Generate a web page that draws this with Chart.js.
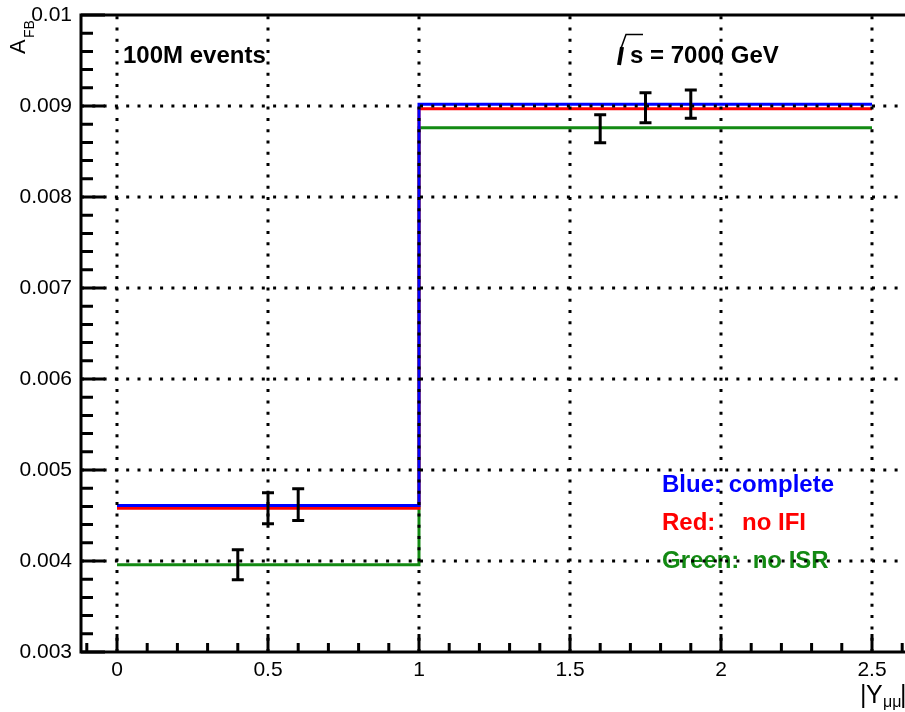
<!DOCTYPE html>
<html>
<head>
<meta charset="utf-8">
<script src="https://cdn.jsdelivr.net/npm/chart.js@4.4.1/dist/chart.umd.min.js"></script>
<style>
  html,body{margin:0;padding:0;background:#fff;}
  #wrap{width:905px;height:712px;}
</style>
</head>
<body>
<div id="wrap"><canvas id="myChart" width="905" height="712"></canvas></div>
<script>
// bins in |Y_mumu| and A_FB per bin
const bin_edges = [0, 1, 2.5]
const afb_complete = [0.00461, 0.00902]
const afb_noIFI = [0.00458, 0.00897]
const afb_noISR = [0.00396, 0.00876]

// generated points (100M events) with stat errors
const pnt_x = [0.4, 0.5, 0.6, 1.6, 1.75, 1.9]
const pnt_y = [0.00396, 0.00458, 0.00462, 0.00875, 0.00898, 0.00902]
const pnt_err = [0.000165, 0.00017, 0.000175, 0.000155, 0.000165, 0.000155]

const x_ticks = [0, 0.5, 1, 1.5, 2, 2.5]
const x_tick_labels = ['0', '0.5', '1', '1.5', '2', '2.5']
const y_ticks = [0.003, 0.004, 0.005, 0.006, 0.007, 0.008, 0.009, 0.01]
const y_tick_labels = ['0.003', '0.004', '0.005', '0.006', '0.007', '0.008', '0.009', '0.01']

const C_BLUE = '#0000ff'
const C_RED = '#ff0000'
const C_GREEN = '#138a13'
const FONT = "'Liberation Sans', Arial, Helvetica, sans-serif"

Chart.defaults.font.family = FONT

// histogram -> step points (last edge repeats last bin)
const to_steps = (vals) => bin_edges.map((e, i) => ({x: e, y: vals[Math.min(i, vals.length - 1)]}))

const root_frame = {
  id: 'root_frame',
  afterDatasetsDraw(chart) {
    const ctx = chart.ctx
    const ys = chart.scales.y
    const meta = chart.getDatasetMeta(3)

    // error bars
    ctx.save()
    ctx.strokeStyle = '#000'
    ctx.lineWidth = 3
    meta.data.forEach((pt, i) => {
      const yt = ys.getPixelForValue(pnt_y[i] + pnt_err[i])
      const yb = ys.getPixelForValue(pnt_y[i] - pnt_err[i])
      ctx.beginPath()
      ctx.moveTo(pt.x, yt); ctx.lineTo(pt.x, yb)
      ctx.moveTo(pt.x - 6, yt); ctx.lineTo(pt.x + 6, yt)
      ctx.moveTo(pt.x - 6, yb); ctx.lineTo(pt.x + 6, yb)
      ctx.stroke()
    })

    // labels
    ctx.textAlign = 'left'
    ctx.textBaseline = 'alphabetic'
    ctx.fillStyle = '#000'
    ctx.font = `bold 24px ${FONT}`
    ctx.fillText('100M events', 123, 63)

    // sqrt(s)
    ctx.lineWidth = 4
    ctx.beginPath(); ctx.moveTo(619, 65); ctx.lineTo(622, 47); ctx.stroke()
    ctx.lineWidth = 1.5
    ctx.beginPath(); ctx.moveTo(621.5, 47); ctx.lineTo(626, 34.5); ctx.lineTo(643, 34.5); ctx.stroke()
    ctx.fillText('s = 7000 GeV', 630, 63)

    ctx.fillStyle = C_BLUE
    ctx.fillText('Blue: complete', 662, 492)
    ctx.fillStyle = C_RED
    ctx.fillText('Red:    no IFI', 662, 530)
    ctx.fillStyle = C_GREEN
    ctx.fillText('Green:  no ISR', 662, 568)

    // axis titles
    ctx.fillStyle = '#000'
    ctx.save()
    ctx.translate(25, 54)
    ctx.rotate(-Math.PI / 2)
    ctx.font = `22px ${FONT}`
    ctx.fillText('A', 0, 0)
    ctx.font = `14px ${FONT}`
    ctx.fillText('FB', 16, 9)
    ctx.restore()

    ctx.font = `25px ${FONT}`
    ctx.fillText('|', 860, 703)
    ctx.fillText('Y', 866, 703)
    ctx.font = `16px ${FONT}`
    ctx.fillText('\u03bc\u03bc', 883, 707)
    ctx.font = `25px ${FONT}`
    ctx.fillText('|', 900, 703)
    ctx.restore()
  },
  afterDraw(chart) {
    const {ctx, chartArea: {left, right, top, bottom}} = chart
    const xs = chart.scales.x
    const ys = chart.scales.y
    ctx.save()
    ctx.strokeStyle = '#000'

    // dotted grid on top of the histograms
    ctx.lineWidth = 3
    ctx.setLineDash([3, 8.3])
    x_ticks.forEach((v) => {
      const px = xs.getPixelForValue(v)
      ctx.beginPath(); ctx.moveTo(px, bottom); ctx.lineTo(px, top); ctx.stroke()
    })
    y_ticks.forEach((v) => {
      const py = ys.getPixelForValue(v)
      if (py > bottom - 2 || py < top + 2) return
      ctx.beginPath(); ctx.moveTo(left, py); ctx.lineTo(right, py); ctx.stroke()
    })
    ctx.setLineDash([])

    // frame
    ctx.beginPath()
    ctx.moveTo(right, top); ctx.lineTo(left, top); ctx.lineTo(left, bottom); ctx.lineTo(right, bottom)
    ctx.stroke()

    // tick marks, 5 minor per major on y, 5 on x
    ctx.beginPath()
    for (let k = 0; k <= 35; k++) {
      const py = ys.getPixelForValue(0.003 + k * 0.0002)
      const len = k % 5 === 0 ? 24 : 12
      ctx.moveTo(left, py); ctx.lineTo(left + len, py)
    }
    for (let k = -1; k <= 26; k++) {
      const px = xs.getPixelForValue(k * 0.1)
      if (px < left || px > right) continue
      const len = k % 5 === 0 ? 18 : 9
      ctx.moveTo(px, bottom); ctx.lineTo(px, bottom - len)
    }
    ctx.stroke()
    ctx.restore()
  }
}

const line_ds = (label, vals, color) => ({
  type: 'line',
  label: label,
  data: to_steps(vals),
  borderColor: color,
  backgroundColor: color,
  borderWidth: 3,
  pointRadius: 0,
  stepped: 'before',
  fill: false,
})

const chart = new Chart(document.getElementById('myChart'), {
  type: 'line',
  data: {
    datasets: [
      line_ds('complete', afb_complete, C_BLUE),
      line_ds('no IFI', afb_noIFI, C_RED),
      line_ds('no ISR', afb_noISR, C_GREEN),
      {
        type: 'scatter',
        label: 'MC',
        data: pnt_x.map((x, i) => ({x: x, y: pnt_y[i]})),
        pointRadius: 0,
        showLine: false,
      },
    ]
  },
  options: {
    responsive: false,
    animation: false,
    devicePixelRatio: 1,
    layout: {padding: {top: 15, left: 0, right: 0, bottom: 0}},
    plugins: {legend: {display: false}, tooltip: {enabled: false}},
    scales: {
      x: {
        type: 'linear',
        min: -0.1192,
        max: 2.6093,
        afterBuildTicks: (s) => { s.ticks = x_ticks.map((v) => ({value: v})) },
        afterFit: (s) => { s.height = 60; s.paddingLeft = 0; s.paddingRight = 0 },
        grid: {display: false, drawTicks: false},
        border: {display: false},
        ticks: {
          color: '#000',
          font: {size: 21},
          padding: 6,
          autoSkip: false,
          maxRotation: 0,
          callback: (v, i) => x_tick_labels[i],
        },
      },
      y: {
        type: 'linear',
        min: 0.003,
        max: 0.01,
        afterBuildTicks: (s) => { s.ticks = y_ticks.map((v) => ({value: v})) },
        afterFit: (s) => { s.width = 81; s.paddingTop = 0; s.paddingBottom = 0 },
        grid: {display: false, drawTicks: false},
        border: {display: false},
        ticks: {
          color: '#000',
          font: {size: 21},
          padding: 9,
          autoSkip: false,
          callback: (v, i) => y_tick_labels[i],
        },
      },
    },
  },
  plugins: [root_frame],
})
</script>
</body>
</html>
